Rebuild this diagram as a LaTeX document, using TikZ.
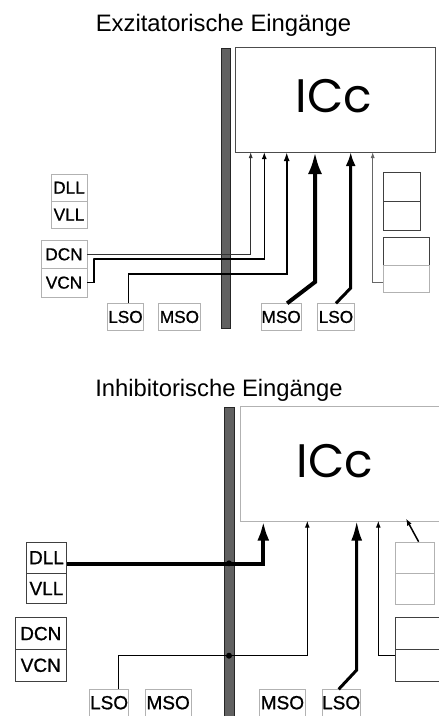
\documentclass[tikz,border=0pt]{standalone}
\usepackage{fontspec}
\setmainfont{Liberation Sans}
\newfontfamily\iccfont{Poppins}
\newfontfamily\lblfont{Liberation Sans}[FakeBold=0.9]
\usetikzlibrary{arrows.meta,calc}
\begin{document}
\begin{tikzpicture}[x=1pt,y=-1pt,
  lbl/.style={draw=black!30,line width=0.6pt,inner sep=0pt,anchor=north west,font=\lblfont\fontsize{17.2}{18}\selectfont},
  dlbl/.style={lbl,draw=black!75,line width=0.9pt},
  big/.style={font=\lblfont\fontsize{19}{20}\selectfont},
  bar/.style={fill=black!62,draw=black!85,line width=0.6pt},
  iccbox/.style={draw=black!70,line width=1pt,anchor=north west,inner sep=0pt},
  title/.style={font=\fontsize{23.8}{26}\selectfont,anchor=base},
  icctext/.style={font=\iccfont\fontsize{47}{50}\selectfont,anchor=base},
  w1/.style={line width=0.9pt,black!80},
  w2/.style={line width=1.3pt},
  w3/.style={line width=1.8pt},
  w4/.style={line width=4pt},
  w5/.style={line width=3pt},
  dot/.style={circle,fill=black,inner sep=0pt,minimum size=6pt}
]
\useasboundingbox (0,0) rectangle (439,716);
\fill[white] (0,0) rectangle (439,716);

% ================= TOP PANEL =================
\node[title] (t1title) at (223.5,31) {Exzitatorische Eingänge};
\node[bar,minimum width=9pt,minimum height=280pt,inner sep=0pt,anchor=north west] (bar1) at (221,48) {};
\node[iccbox,minimum width=200pt,minimum height=105pt] (icc1) at (235,47) {};
\node[icctext] (icc1t) at (334,112) {ICc};

% left label boxes
\node[lbl,minimum width=36pt,minimum height=26.7pt] (dll1) at (50.7,174) {DLL};
\node[lbl,minimum width=36pt,minimum height=27.3pt] (vll1) at (50.7,200.7) {VLL};
\node[lbl,minimum width=46pt,minimum height=28pt] (dcn1) at (40.7,240) {DCN};
\node[lbl,minimum width=46pt,minimum height=28.7pt] (vcn1) at (40.7,268) {VCN};

% bottom label boxes
\node[lbl,minimum width=36.3pt,minimum height=26.7pt] (lso1) at (107,303.3) {LSO};
\node[lbl,minimum width=41.7pt,minimum height=26.7pt] (mso1) at (158.3,303.3) {MSO};
\node[lbl,minimum width=40.3pt,minimum height=26.7pt] (mso2) at (260.7,303.3) {MSO};
\node[lbl,minimum width=36.7pt,minimum height=26.7pt] (lso2) at (317.3,303.3) {LSO};

% right boxes
\node[dlbl,minimum width=37.3pt,minimum height=29.3pt] (ra1) at (382.7,171.7) {};
\node[dlbl,minimum width=37.3pt,minimum height=29pt] (ra2) at (382.7,201) {};
\node[dlbl,minimum width=46.3pt,minimum height=28pt] (rb1) at (382.7,237) {};
\node[lbl,minimum width=46.3pt,minimum height=27pt] (rb2) at (382.7,265) {};

% targets on ICc
\coordinate (e1) at (250.7,152);
\coordinate (e2) at (264.3,152);
\coordinate (e3) at (286.7,152);
\coordinate (e4) at (315,152);
\coordinate (e5) at (350.7,152);
\coordinate (e6) at (372.7,152);
\coordinate (k2) at (93.3,259);
\coordinate (k4) at (315,282);
\coordinate (k5) at (350.7,288);

\draw[w1,-{Latex[length=6pt,width=4pt]}] (dcn1.east) -| (e1);
\draw[w2,-{Latex[length=7pt,width=5pt]}] ($(vcn1.east)+(0,0)$) -- ($(vcn1.east)+(6.6,0)$) |- (k2) -| (e2);
\draw[w3,-{Latex[length=9pt,width=6pt]}] ($(lso1.north)+(3,0)$) |- (e3 |- 0,274.3) -- (e3);
\draw[w4,-{Latex[length=22pt,width=14pt]}] ($(mso2.north)+(6,0)$) -- (k4) -- (e4);
\draw[w5,-{Latex[length=14pt,width=10pt]}] ($(lso2.north)+(0,0)$) -- (k5) -- (e5);
\draw[w1,black!60,-{Latex[length=6pt,width=4pt]}] ($(rb2.west)+(0,3.5)$) -| (e6);

% ================= BOTTOM PANEL =================
\node[title] (t2title) at (219,396) {Inhibitorische Eingänge};
\node[bar,minimum width=10pt,minimum height=315pt,inner sep=0pt,anchor=north west] (bar2) at (224,407) {};
\node[iccbox,draw=black!30,minimum width=220pt,minimum height=114.7pt] (icc2) at (240,406) {};
\node[icctext] (icc2t) at (335,477.3) {ICc};

\node[dlbl,big,minimum width=40pt,minimum height=31pt] (dll2) at (26,541.7) {DLL};
\node[dlbl,big,minimum width=40pt,minimum height=30.7pt] (vll2) at (26,572.7) {VLL};
\node[dlbl,big,minimum width=51.3pt,minimum height=31.7pt] (dcn2) at (14.7,617.3) {DCN};
\node[dlbl,big,minimum width=51.3pt,minimum height=31.7pt] (vcn2) at (14.7,649) {VCN};

\node[lbl,big,minimum width=39pt,minimum height=26.2pt] (lso3) at (89.3,689.3) {LSO};
\node[lbl,big,minimum width=45.7pt,minimum height=26.2pt] (mso3) at (145,689.3) {MSO};
\node[lbl,big,minimum width=45.7pt,minimum height=26.2pt] (mso4) at (259.3,689.3) {MSO};
\node[lbl,big,minimum width=38.3pt,minimum height=26.2pt] (lso4) at (321.7,689.3) {LSO};

\node[lbl,minimum width=39pt,minimum height=31pt] (rc1) at (395,541.7) {};
\node[lbl,minimum width=39pt,minimum height=31.7pt] (rc2) at (395,572.7) {};
\node[dlbl,minimum width=60pt,minimum height=31.7pt] (rd1) at (395,617.3) {};
\node[dlbl,minimum width=60pt,minimum height=31.7pt] (rd2) at (395,649) {};

\coordinate (f1) at (263.3,520.7);
\coordinate (f2) at (307.3,520.7);
\coordinate (f3) at (356.7,520.7);
\coordinate (f4) at (378.3,520.7);
\coordinate (f5) at (406,518.5);
\coordinate (g2) at (307.3,655.7);
\coordinate (g3) at (356.7,670);

\draw[w4,-{Latex[length=20pt,width=12pt]}] ($(dll2.east)+(0,6)$) -| (f1);
\draw[w1,line width=1.2pt,black,-{Latex[length=7pt,width=5pt]}] ($(lso3.north)+(9.5,0)$) |- (g2) -- (f2);
\draw[w5,-{Latex[length=20pt,width=11pt]}] ($(lso4.north)+(-2.5,0)$) -- (g3) -- (f3);
\draw[w1,line width=1.2pt,black,-{Latex[length=7pt,width=5pt]}] ($(rd2.west)+(0,-9.5)$) -| (f4);
\draw[line width=1.5pt,-{Latex[length=7pt,width=5pt]}] ($(rc1.north)+(3.8,0)$) -- (f5);

\node[dot] (d1) at (229,563.3) {};
\node[dot] (d2) at (229,655.7) {};
\end{tikzpicture}
\end{document}
